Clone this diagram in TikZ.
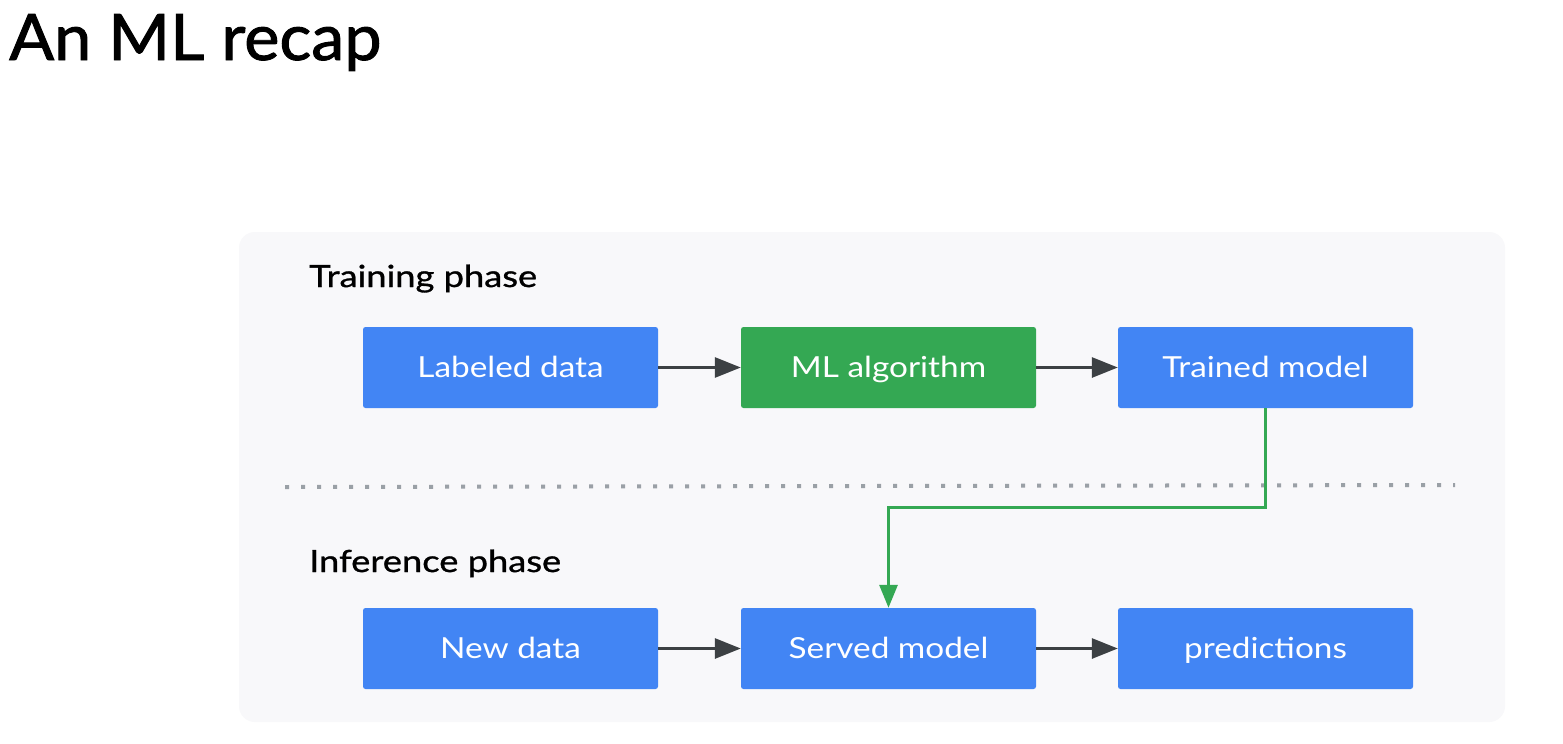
\documentclass[tikz,border=0pt]{standalone}
\usepackage{fontspec}
\setmainfont{Lato}[FakeStretch=1.15]
\newfontfamily\medfont{Lato}[FakeStretch=1.19, FakeBold=1.0]
\newfontfamily\titlefont{Lato}[FakeStretch=1.04, FakeBold=1.5]
\usetikzlibrary{arrows.meta}
\definecolor{gblue}{HTML}{4285F4}
\definecolor{ggreen}{HTML}{34A853}
\definecolor{garrow}{HTML}{3C4043}
\definecolor{gpanel}{HTML}{F8F8FA}
\definecolor{gdot}{HTML}{9AA0A6}
\tikzset{
  box/.style={minimum width=295pt, minimum height=81pt, rounded corners=2.5pt, inner sep=0pt, text=white, font=\fontsize{29}{34}\selectfont, text height=24pt, text depth=5pt},
  bluebox/.style={box, fill=gblue},
  greenbox/.style={box, fill=ggreen},
  flow/.style={draw=garrow, line width=3pt, -{Triangle[length=26pt,width=20pt]}},
  serve/.style={draw=ggreen, line width=3pt, -{Triangle[length=23pt,width=18pt]}},
  phase/.style={anchor=base west, inner sep=0pt, font=\medfont\fontsize{30.5}{34}\selectfont},
}
\begin{document}
\begin{tikzpicture}[x=1pt,y=-1pt]
\useasboundingbox (0,0) rectangle (1563,744);
\fill[white] (0,0) rectangle (1563,744);
\node[anchor=base west, inner sep=0pt, font=\titlefont\fontsize{64}{70}\selectfont] (title) at (9,60) {An ML recap};
\fill[gpanel, rounded corners=16pt] (239,232) rectangle (1505,722);
\node[phase] (train) at (309,287) {Training phase};
\node[phase] (infer) at (309,572) {Inference phase};
\node[bluebox] (labeled) at (510.5,367.5) {Labeled data};
\node[greenbox] (algo) at (888.5,367.5) {ML algorithm};
\node[bluebox] (trained) at (1265.5,367.5) {Trained model};
\node[bluebox] (new) at (510.5,648.5) {New data};
\node[bluebox] (served) at (888.5,648.5) {Served model};
\node[bluebox] (pred) at (1265.5,648.5) {predictions};
\coordinate (dl) at (285,487);
\coordinate (dr) at (1455,485);
\draw[gdot, line width=4pt, dash pattern=on 4pt off 12pt] (dl) -- (dr);
\draw[flow] (labeled) -- (algo);
\draw[flow] (algo) -- (trained);
\draw[flow] (new) -- (served);
\draw[flow] (served) -- (pred);
\draw[serve] (trained.south) -- ++(0,99) -| (served.north);
\end{tikzpicture}
\end{document}
